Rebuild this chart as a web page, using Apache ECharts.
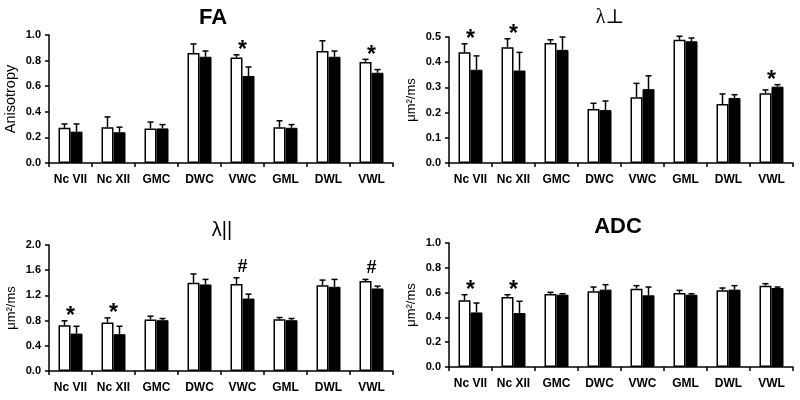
<!DOCTYPE html>
<html><head><meta charset="utf-8">
<script src="https://cdn.jsdelivr.net/npm/echarts@6/dist/echarts.min.js"></script>
<style>html,body{margin:0;padding:0;background:#fff}#c{width:800px;height:400px}</style>
</head><body><div id="c"></div>
<script>
const categories = ['Nc VII','Nc XII','GMC','DWC','VWC','GML','DWL','VWL'];

const faCtrl    = [0.275,0.28,0.27,0.86,0.825,0.28,0.875,0.79];
const faCtrlErr = [0.03,0.08,0.05,0.07,0.02,0.05,0.08,0.02];
const faTreat   = [0.245,0.24,0.27,0.83,0.68,0.275,0.83,0.705];
const faTreatErr= [0.06,0.04,0.03,0.045,0.07,0.025,0.045,0.025];
const faMarks   = ['','','','','*','','','*'];

const perpCtrl    = [0.439,0.459,0.476,0.214,0.261,0.489,0.234,0.277];
const perpCtrlErr = [0.034,0.034,0.013,0.023,0.055,0.014,0.04,0.013];
const perpTreat   = [0.37,0.367,0.449,0.21,0.293,0.483,0.258,0.303];
const perpTreatErr= [0.055,0.072,0.051,0.036,0.053,0.013,0.013,0.008];
const perpMarks   = ['*','*','','','','','','*'];

const parCtrl    = [0.727,0.77,0.817,1.40,1.38,0.822,1.363,1.427];
const parCtrlErr = [0.069,0.073,0.053,0.14,0.10,0.027,0.08,0.027];
const parTreat   = [0.594,0.584,0.806,1.374,1.15,0.806,1.337,1.31];
const parTreatErr= [0.116,0.126,0.027,0.08,0.07,0.027,0.117,0.037];
const parMarks   = ['*','*','','','#','','','#'];

const adcCtrl    = [0.538,0.565,0.589,0.61,0.632,0.597,0.618,0.656];
const adcCtrlErr = [0.045,0.018,0.013,0.035,0.024,0.021,0.019,0.016];
const adcTreat   = [0.44,0.435,0.583,0.624,0.578,0.583,0.624,0.637];
const adcTreatErr= [0.076,0.095,0.008,0.04,0.067,0.008,0.032,0.008];
const adcMarks   = ['*','*','','','','','',''];

const panels = [
  {title:'FA', tFont:'bold 22px "Liberation Sans", Arial', tx:213, ty:18, yName:'Anisotropy', nameSize:14.5, max:1.0, interval:0.2,
   ctrl:faCtrl, ctrlErr:faCtrlErr, treat:faTreat, treatErr:faTreatErr, marks:faMarks,
   grid:{left:49, top:35, width:344, height:128}},
  {title:'λ⊥', tFont:'20px "Liberation Serif", "DejaVu Serif", serif', tx:610, ty:18, yName:'μm²/ms', nameSize:13, max:0.5, interval:0.1,
   ctrl:perpCtrl, ctrlErr:perpCtrlErr, treat:perpTreat, treatErr:perpTreatErr, marks:perpMarks,
   grid:{left:449, top:37, width:344, height:126}},
  {title:'λ||', tFont:'20px "Liberation Sans", Arial', tx:222, ty:230, yName:'μm²/ms', nameSize:13, max:2.0, interval:0.4,
   ctrl:parCtrl, ctrlErr:parCtrlErr, treat:parTreat, treatErr:parTreatErr, marks:parMarks,
   grid:{left:49, top:245, width:344, height:126}},
  {title:'ADC', tFont:'bold 22px "Liberation Sans", Arial', tx:618, ty:227, yName:'μm²/ms', nameSize:13, max:1.0, interval:0.2,
   ctrl:adcCtrl, ctrlErr:adcCtrlErr, treat:adcTreat, treatErr:adcTreatErr, marks:adcMarks,
   grid:{left:449, top:243, width:344, height:124}}
];

const BAR_W = 12;
const FONT = '"Liberation Sans", Arial, sans-serif';

const grids = [], xAxes = [], yAxes = [], series = [], graphics = [];
panels.forEach((p, k) => {
  grids.push(Object.assign({containLabel:false}, p.grid));
  xAxes.push({
    type:'category', gridIndex:k, data:categories,
    axisLine:{lineStyle:{color:'#000', width:1.5}},
    axisTick:{show:true, length:4, lineStyle:{color:'#000', width:1.5}},
    axisLabel:{color:'#000', fontFamily:FONT, fontWeight:'bold', fontSize:12, margin:11, interval:0}
  });
  yAxes.push({
    type:'value', gridIndex:k, min:0, max:p.max, interval:p.interval,
    name:p.yName, nameLocation:'middle', nameGap:31,
    nameTextStyle:{color:'#000', fontFamily:FONT, fontSize:p.nameSize},
    splitLine:{show:false},
    axisLine:{show:true, lineStyle:{color:'#000', width:1.5}},
    axisTick:{show:true, length:4, lineStyle:{color:'#000', width:1.5}},
    axisLabel:{color:'#000', fontFamily:FONT, fontWeight:'bold', fontSize:11, margin:8,
      formatter:v => v.toFixed(1)}
  });
  series.push({
    type:'bar', xAxisIndex:k, yAxisIndex:k, data:p.ctrl, barWidth:BAR_W, barGap:'0%',
    itemStyle:{color:'#fff', borderColor:'#000', borderWidth:1.5}, z:2
  });
  series.push({
    type:'bar', xAxisIndex:k, yAxisIndex:k, data:p.treat, barWidth:BAR_W, barGap:'0%',
    itemStyle:{color:'#000', borderColor:'#000', borderWidth:1}, z:2
  });
  const errData = [];
  categories.forEach((c, i) => {
    errData.push([i, p.ctrl[i], p.ctrlErr[i], -1]);
    errData.push([i, p.treat[i], p.treatErr[i], 1]);
  });
  series.push({
    type:'custom', xAxisIndex:k, yAxisIndex:k, data:errData, z:5, silent:true,
    renderItem:(params, api) => {
      const i = api.value(0), v = api.value(1), e = api.value(2), side = api.value(3);
      const a = api.coord([i, v]), b = api.coord([i, v + e]);
      const x = a[0] + side * BAR_W / 2;
      const st = {stroke:'#000', lineWidth:1.5};
      return {type:'group', children:[
        {type:'line', shape:{x1:x, y1:a[1], x2:x, y2:b[1]}, style:st},
        {type:'line', shape:{x1:x - 3, y1:b[1], x2:x + 3, y2:b[1]}, style:st}
      ]};
    }
  });
  const markData = [];
  categories.forEach((c, i) => {
    if (p.marks[i]) markData.push([i, Math.max(p.ctrl[i] + p.ctrlErr[i], p.treat[i] + p.treatErr[i]), p.marks[i]]);
  });
  series.push({
    type:'custom', xAxisIndex:k, yAxisIndex:k, data:markData, z:6, silent:true,
    renderItem:(params, api) => {
      const i = api.value(0), top = api.value(1);
      const m = markData[params.dataIndex][2];
      const pt = api.coord([i, top]);
      const star = m === '*';
      return {type:'text', x:pt[0], y:pt[1] - (star ? 4 : 11),
        style:{text:m, fill:'#000', font:'bold ' + (star ? 23 : 18) + 'px ' + FONT,
          align:'center', verticalAlign:'middle'}};
    }
  });
  graphics.push({type:'text', x:p.tx, y:p.ty,
    style:{text:p.title, fill:'#000', font:p.tFont, align:'center', verticalAlign:'middle'}});
});

const chart = echarts.init(document.getElementById('c'), null, {renderer:'canvas'});
chart.setOption({
  backgroundColor:'#fff', animation:false,
  grid:grids, xAxis:xAxes, yAxis:yAxes, series:series, graphic:graphics
});
</script></body></html>
